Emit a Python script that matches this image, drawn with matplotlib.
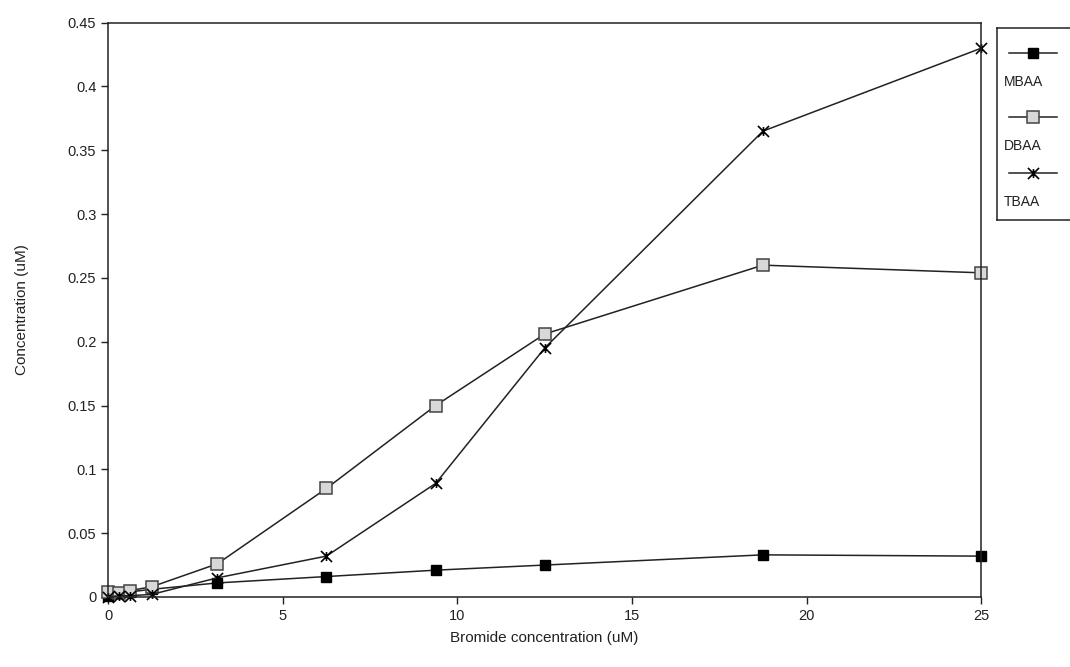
import numpy as np
import matplotlib.pyplot as plt
from matplotlib.path import Path
from matplotlib.lines import Line2D

plt.rcParams['font.family'] = ['Liberation Sans', 'DejaVu Sans']

# bromide dose (uM) and haloacetic acid yields (uM)
bromide = [0, 0.31, 0.63, 1.25, 3.13, 6.25, 9.38, 12.5, 18.75, 25]
mbaa = [0.001, 0.003, 0.004, 0.006, 0.011, 0.016, 0.021, 0.025, 0.033, 0.032]
dbaa = [0.004, 0.003, 0.005, 0.008, 0.026, 0.085, 0.150, 0.206, 0.260, 0.254]
tbaa = [0.0, 0.001, 0.001, 0.002, 0.015, 0.032, 0.089, 0.195, 0.365, 0.430]

x_ticks = [0, 5, 10, 15, 20, 25]
y_ticks = [0, 0.05, 0.1, 0.15, 0.2, 0.25, 0.3, 0.35, 0.4, 0.45]
y_ticklabels = ['0', '0.05', '0.1', '0.15', '0.2', '0.25', '0.3', '0.35', '0.4', '0.45']

# star marker: an x with a vertical bar through it
M, L = Path.MOVETO, Path.LINETO
star = Path([(-1, -1), (1, 1), (-1, 1), (1, -1), (0, -0.8), (0, 0.8)],
            [M, L, M, L, M, L])

ink = '#222222'
styles = [
    ('MBAA', mbaa, dict(marker='s', markersize=7, markerfacecolor='black', markeredgecolor='black')),
    ('DBAA', dbaa, dict(marker='s', markersize=8, markerfacecolor='#d8d8d8', markeredgecolor='#444444', markeredgewidth=1.1)),
    ('TBAA', tbaa, dict(marker=star, markersize=8, markerfacecolor='none', markeredgecolor='black', markeredgewidth=1.2)),
]

fig = plt.figure(figsize=(10.7, 6.67), dpi=100)
ax = fig.add_axes([0.101, 0.105, 0.816, 0.861])

for name, vals, st in styles:
    ax.plot(bromide, vals, color=ink, linewidth=1.1, clip_on=False, **st)

ax.set_xlim(0, 25)
ax.set_ylim(0, 0.45)
ax.set_xticks(x_ticks)
ax.set_yticks(y_ticks)
ax.set_yticklabels(y_ticklabels)
ax.tick_params(direction='out', length=5, width=1, labelsize=10.5, colors='#222222')
for s in ax.spines.values():
    s.set_linewidth(1.1)
    s.set_color('#222222')

ax.set_xlabel('Bromide concentration (uM)', fontsize=11, color='#222222', labelpad=6)
ax.set_ylabel('Concentration (uM)', fontsize=11, color='#222222', labelpad=28)

# legend box outside the plot, marker line above each label
lax = fig.add_axes([0.932, 0.670, 0.08, 0.288])
lax.set_xlim(0, 1)
lax.set_ylim(0, 1)
lax.set_xticks([])
lax.set_yticks([])
for s in lax.spines.values():
    s.set_linewidth(1.1)
    s.set_color('#222222')
rows = [0.87, 0.535, 0.245]
for (name, vals, st), yy in zip(styles, rows):
    lax.add_line(Line2D([0.14, 0.70], [yy, yy], color=ink, linewidth=1.1))
    lax.add_line(Line2D([0.42], [yy], linestyle='none', **st))
    lax.text(0.08, yy - 0.15, name, fontsize=10, color='#222222', va='center', ha='left')

fig.savefig('out.png', dpi=100)
